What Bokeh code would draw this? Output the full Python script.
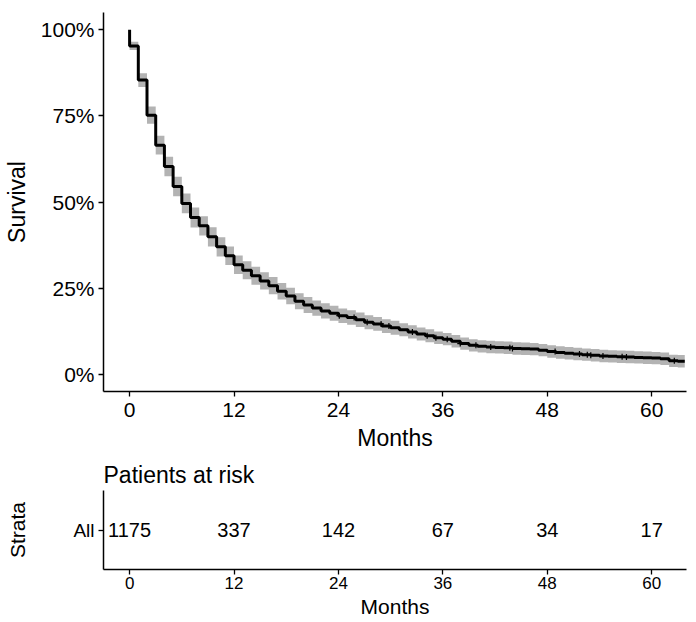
import numpy as np
from bokeh.plotting import figure
from bokeh.layouts import column
from bokeh.models import Range1d, FixedTicker
from bokeh.core.properties import value
from bokeh.embed import file_html
from bokeh.resources import INLINE

FONT = "Liberation Sans"

# ---- data ----
months = [0, 0, 1, 2, 3, 4, 5, 6, 7, 8, 9, 10, 11, 12, 13, 14, 15, 16, 17, 18, 19,
          20, 21, 22, 23, 24, 25, 26, 27, 28, 29, 30, 31, 32, 33, 34, 35, 36, 37,
          38, 39, 40, 41, 42, 43, 44, 45, 46, 47, 48, 49, 50, 51, 52, 53, 54, 55,
          56, 57, 58, 59, 60, 61, 62, 63, 63.8]
survival = [1.000, 0.953, 0.854, 0.752, 0.665, 0.603, 0.545, 0.496, 0.455, 0.431,
            0.399, 0.370, 0.344, 0.318, 0.302, 0.286, 0.271, 0.257, 0.241, 0.227,
            0.212, 0.201, 0.192, 0.184, 0.177, 0.170, 0.165, 0.158, 0.151, 0.146,
            0.140, 0.135, 0.129, 0.123, 0.117, 0.112, 0.106, 0.102, 0.096, 0.089,
            0.084, 0.081, 0.079, 0.078, 0.077, 0.075, 0.074, 0.073, 0.070, 0.066,
            0.063, 0.061, 0.059, 0.057, 0.055, 0.053, 0.052, 0.051, 0.050, 0.049,
            0.048, 0.047, 0.045, 0.039, 0.038, 0.038]
ci_upper = [1.000, 0.965, 0.874, 0.777, 0.692, 0.631, 0.573, 0.525, 0.484, 0.459,
            0.427, 0.398, 0.371, 0.345, 0.328, 0.312, 0.296, 0.282, 0.265, 0.251,
            0.235, 0.224, 0.214, 0.206, 0.199, 0.191, 0.186, 0.179, 0.171, 0.166,
            0.160, 0.155, 0.148, 0.142, 0.136, 0.131, 0.124, 0.120, 0.114, 0.107,
            0.102, 0.099, 0.097, 0.096, 0.095, 0.093, 0.092, 0.091, 0.088, 0.084,
            0.081, 0.079, 0.077, 0.075, 0.073, 0.071, 0.070, 0.069, 0.068, 0.067,
            0.066, 0.065, 0.063, 0.057, 0.056, 0.056]
ci_lower = [1.000, 0.941, 0.834, 0.727, 0.638, 0.575, 0.517, 0.467, 0.426, 0.403,
            0.371, 0.342, 0.317, 0.291, 0.276, 0.260, 0.246, 0.232, 0.217, 0.203,
            0.189, 0.178, 0.170, 0.162, 0.155, 0.149, 0.144, 0.137, 0.131, 0.126,
            0.120, 0.115, 0.110, 0.104, 0.098, 0.093, 0.088, 0.084, 0.078, 0.071,
            0.066, 0.063, 0.061, 0.060, 0.059, 0.057, 0.056, 0.055, 0.052, 0.048,
            0.045, 0.043, 0.041, 0.039, 0.037, 0.035, 0.034, 0.033, 0.032, 0.031,
            0.030, 0.029, 0.027, 0.021, 0.020, 0.020]
censor_months = [24.1, 25.8, 27.3, 28.9, 29.8, 32.5, 34.2, 35.2, 36.5, 38.0,
                 39.8, 41.5, 43.7, 44.0, 48.9, 51.7, 52.6, 53.0, 54.4, 56.6,
                 57.1, 62.6]

x_ticks = [0, 12, 24, 36, 48, 60]
y_ticks = [0, 0.25, 0.5, 0.75, 1.0]
y_tick_labels = ["0%", "25%", "50%", "75%", "100%"]

risk_months = [0, 12, 24, 36, 48, 60]
risk_counts = [1175, 337, 142, 67, 34, 17]
strata = ["All"]

# censor mark heights looked up from the step curve
idx = np.searchsorted(np.array(months), np.array(censor_months), side="right") - 1
censor_surv = [survival[i] for i in idx]


def style_axes(p, tick_size, label_size):
    for ax in (p.xaxis[0], p.yaxis[0]):
        ax.axis_line_color = "black"
        ax.axis_line_width = 1.5
        ax.major_tick_line_color = "black"
        ax.major_tick_line_width = 1.3
        ax.major_tick_out = 5
        ax.major_tick_in = 0
        ax.minor_tick_line_color = None
        ax.major_label_text_font = FONT
        ax.major_label_text_font_size = tick_size
        ax.major_label_text_color = "black"
        ax.axis_label_text_font = FONT
        ax.axis_label_text_font_size = label_size
        ax.axis_label_text_font_style = "normal"
        ax.axis_label_text_color = "black"
    p.xgrid.visible = False
    p.ygrid.visible = False
    p.outline_line_color = None


# ---- main survival plot ----
p = figure(width=690, height=456, x_range=Range1d(-3, 64), y_range=Range1d(-0.05, 1.05),
           output_backend="svg", toolbar_location=None,
           min_border_left=103, min_border_right=4, min_border_top=12, min_border_bottom=65)

p.varea_step(x=months, y1=ci_lower, y2=ci_upper, step_mode="after",
             fill_color="#b3b3b3", fill_alpha=1.0)
p.step(x=months, y=survival, mode="after", line_color="black", line_width=3)
p.scatter(x=censor_months, y=censor_surv, marker="cross", size=6,
          line_color="black", line_width=1.2)

p.xaxis.ticker = FixedTicker(ticks=x_ticks)
p.yaxis.ticker = FixedTicker(ticks=y_ticks)
p.yaxis.major_label_overrides = dict(zip(y_ticks, y_tick_labels))
p.xaxis.axis_label = "Months"
p.yaxis.axis_label = "Survival"
style_axes(p, "21px", "23px")
p.xaxis.major_label_standoff = 6
p.xaxis.axis_label_standoff = 5
p.yaxis.major_label_standoff = 4
p.yaxis.axis_label_standoff = 8

# ---- risk table ----
r = figure(width=690, height=166, x_range=Range1d(-3, 64), y_range=Range1d(0.4, 1.6),
           output_backend="svg", toolbar_location=None,
           min_border_left=103, min_border_right=4, min_border_top=33, min_border_bottom=53)
r.text(x=risk_months, y=[1] * len(risk_months), text=[str(c) for c in risk_counts],
       text_align="center", text_baseline="middle", text_font=value(FONT),
       text_font_size="20px", text_color="black")
r.title.text = "Patients at risk"
r.title.text_font = FONT
r.title.text_font_size = "23px"
r.title.text_font_style = "normal"
r.title.text_color = "black"
r.title.align = "left"
r.title.standoff = 6
r.xaxis.ticker = FixedTicker(ticks=x_ticks)
r.yaxis.ticker = FixedTicker(ticks=[1])
r.yaxis.major_label_overrides = {1: strata[0]}
r.xaxis.axis_label = "Months"
r.yaxis.axis_label = "Strata"
style_axes(r, "17px", "21px")
r.yaxis.major_label_text_font_size = "19px"
r.xaxis.major_label_standoff = 2
r.xaxis.axis_label_standoff = 3
r.yaxis.major_label_standoff = 4
r.yaxis.axis_label_standoff = 41

layout = column(p, r, spacing=0)
open("out.html", "w").write(file_html(layout, INLINE))
